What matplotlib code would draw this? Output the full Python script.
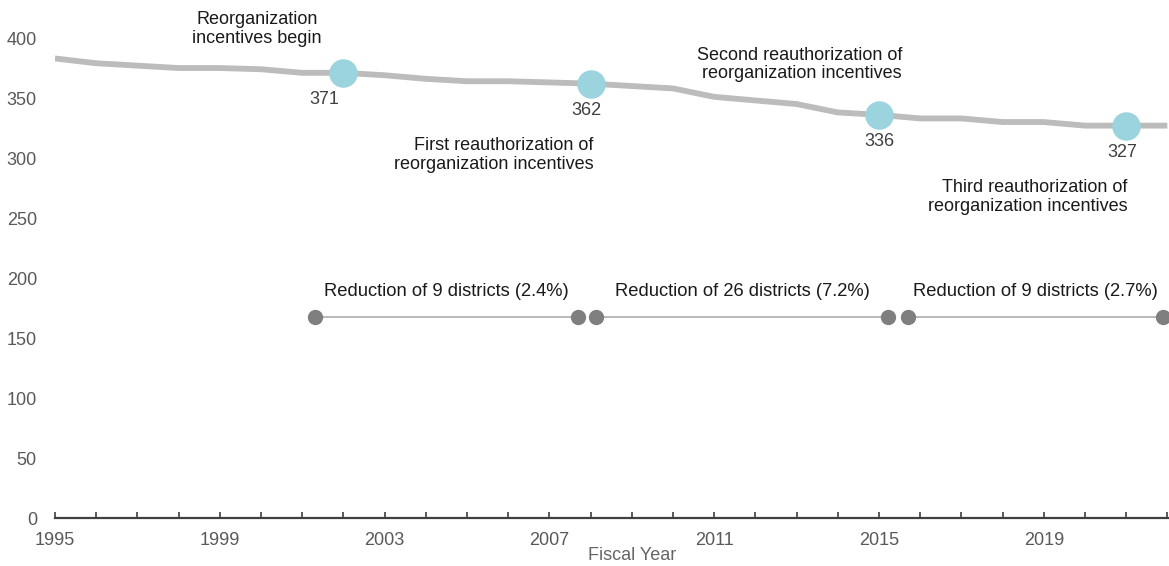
import matplotlib.pyplot as plt

plt.rcParams['font.family'] = ['Liberation Sans', 'DejaVu Sans']

# number of school districts per fiscal year
years = list(range(1995, 2023))
districts = [383, 379, 377, 375, 375, 374, 371, 371, 369, 366, 364, 364, 363, 362,
             360, 358, 351, 348, 345, 338, 336, 333, 333, 330, 330, 327, 327, 327]

# highlighted milestones
milestone_years = [2002, 2008, 2015, 2021]
milestone_values = [371, 362, 336, 327]
milestone_text = ["Reorganization\nincentives begin",
                  "First reauthorization of\nreorganization incentives",
                  "Second reauthorization of\nreorganization incentives",
                  "Third reauthorization of\nreorganization incentives"]

# reduction periods
seg_start = [2001.31, 2008.13, 2015.70]
seg_end = [2007.69, 2015.22, 2021.89]
seg_level = 167.5
seg_text = ["Reduction of 9 districts (2.4%)",
            "Reduction of 26 districts (7.2%)",
            "Reduction of 9 districts (2.7%)"]

fig = plt.figure(figsize=(11.69, 5.66), dpi=100)
ax = fig.add_axes([0.047, 0.0848, 0.953, 0.9152])

ax.plot(years, districts, color="#bcbcbc", lw=4.2, solid_capstyle="butt", zorder=2)
ax.plot(milestone_years, milestone_values, "o", ms=19.5, color="#9bd3df", zorder=3)

# value labels under the markers
label_dx = [-19, -4, 0, -4]
for x, v, dx in zip(milestone_years, milestone_values, label_dx):
    ax.annotate(str(v), (x, v), xytext=(dx * 0.72, -19.5), textcoords="offset points",
                ha="center", va="center", fontsize=13, color="#404040")

# milestone annotations
note_pos = [(1999.9, 407.5, "center"), (2008.08, 302.5, "right"),
            (2015.56, 378, "right"), (2021.04, 267.5, "right")]
for (x, y, ha), t in zip(note_pos, milestone_text):
    ax.text(x, y, t, ha=ha, va="center", fontsize=13, color="#1a1a1a",
            multialignment="right" if ha == "right" else "center", linespacing=1.14)

# reduction segments
for s, e, t in zip(seg_start, seg_end, seg_text):
    ax.plot([s, e], [seg_level, seg_level], color="#a6a6a6", lw=1.1, zorder=2)
    ax.plot([s, e], [seg_level, seg_level], "o", ms=10, color="#7f7f7f", zorder=3)
    ax.text((s + e) / 2, seg_level + 21, t, ha="center", va="center",
            fontsize=13.2, color="#1a1a1a")

ax.set_xlim(1995, 2022.04)
ax.set_ylim(0, 431.7)
ax.set_yticks(range(0, 401, 50))
ax.set_xticks(range(1995, 2022, 4))
ax.set_xticks(years, minor=True)

for side in ["left", "right", "top"]:
    ax.spines[side].set_visible(False)
ax.spines["bottom"].set_color("#404040")
ax.spines["bottom"].set_linewidth(1.6)

ax.tick_params(axis="y", length=0, pad=13, labelsize=13, labelcolor="#595959")
ax.tick_params(axis="x", which="both", direction="in", length=4, width=1.2,
               color="#404040", pad=10, labelsize=13, labelcolor="#595959")

fig.text(632 / 1169, 1 - 555 / 566, "Fiscal Year", ha="center", va="center",
         fontsize=13, color="#666666")

fig.savefig("out.png", dpi=100)
